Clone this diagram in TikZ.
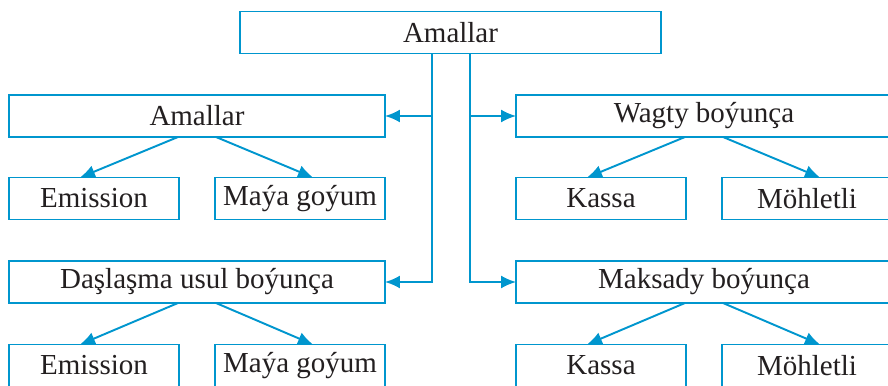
\documentclass[tikz,border=0pt]{standalone}
\usepackage{fontspec}
\setmainfont{Liberation Serif}
\usetikzlibrary{arrows.meta,calc}
\definecolor{schemeblue}{RGB}{0,150,206}
\definecolor{schemetext}{RGB}{35,31,32}

\begin{document}
\begin{tikzpicture}[x=0.02cm,y=-0.02cm,
  box/.style={draw=schemeblue,line width=1.1pt,rectangle,inner sep=0pt,outer sep=0pt,
    minimum height=0.84cm,text=schemetext,font=\fontsize{16.5}{19}\selectfont},
  wide/.style={box,minimum width=7.52cm},
  small/.style={box,minimum width=3.4cm},
  arr/.style={draw=schemeblue,line width=1.1pt,-{Latex[length=3mm,width=2.6mm]}}]
        \useasboundingbox (0,0) rectangle (888,385);
        \clip (0,0) rectangle (888,385);

        \node[box,minimum width=8.42cm] (root) at (450.5,32.5) {Amallar};

        \node[wide] (amal) at (197,116) {Amallar};
        \node[wide] (wagt) at (704,116) {Wagty boýunça};

        \node[small] (emis1) at (94,198.5) {Emission};
        \node[small] (maya1) at (300,198.5) {Maýa goýum};
        \node[small] (kass1) at (601,198.5) {Kassa};
        \node[small] (mohl1) at (807,198.5) {Möhletli};

        \node[wide] (dasl) at (197,282) {Daşlaşma usul boýunça};
        \node[wide] (maks) at (704,282) {Maksady boýunça};

        \node[small] (emis2) at (94,365.5) {Emission};
        \node[small] (maya2) at (300,365.5) {Maýa goýum};
        \node[small] (kass2) at (601,365.5) {Kassa};
        \node[small] (mohl2) at (807,365.5) {Möhletli};

        % trunks from the root
        \coordinate (tl) at ($(root.south)+(-18.5,0)$);
        \coordinate (tr) at ($(root.south)+(19.5,0)$);
        \draw[arr] (tl) |- (dasl.east);
        \draw[arr] (tl |- amal.east) -- (amal.east);
        \draw[arr] (tr) |- (maks.west);
        \draw[arr] (tr |- wagt.west) -- (wagt.west);

        % branches
        \foreach \p/\l/\r in {amal/emis1/maya1,wagt/kass1/mohl1,dasl/emis2/maya2,maks/kass2/mohl2}{
          \draw[arr] ($(\p.south)+(-19,0)$) -- ($(\l.north)+(-14,0)$);
          \draw[arr] ($(\p.south)+(19,0)$) -- ($(\r.north)+(13,0)$);
        }
      \end{tikzpicture}
\end{document}
